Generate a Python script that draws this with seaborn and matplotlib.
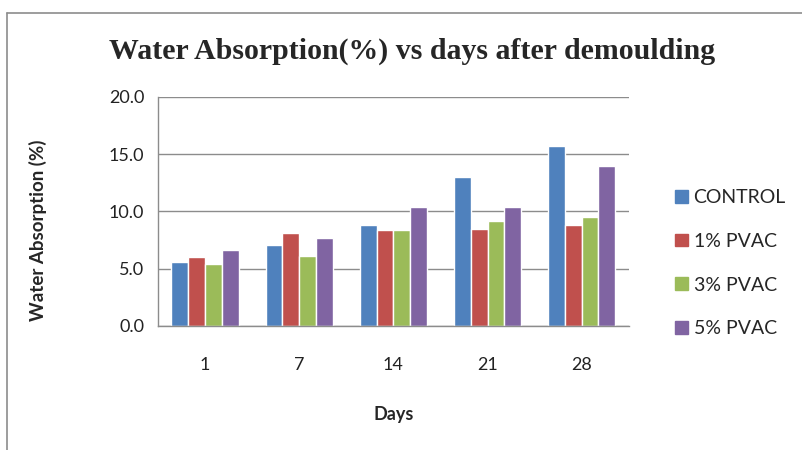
import numpy as np
import pandas as pd
import matplotlib.pyplot as plt
import seaborn as sns
from matplotlib.lines import Line2D

# Data
days = ['1', '7', '14', '21', '28']
groups = ['CONTROL', '1% PVAC', '3% PVAC', '5% PVAC']
control = [5.6, 7.1, 8.8, 13.0, 15.7]
pvac1 = [6.0, 8.1, 8.4, 8.5, 8.8]
pvac3 = [5.4, 6.1, 8.4, 9.2, 9.5]
pvac5 = [6.6, 7.7, 10.4, 10.4, 14.0]
colors = ['#4F81BD', '#C0504D', '#9BBB59', '#8064A2']

# Long form table for seaborn
df = pd.DataFrame({
    'Days': days * 4,
    'Group': np.repeat(groups, len(days)),
    'Value': control + pvac1 + pvac3 + pvac5,
})

sns.set_style('white')
plt.rcParams['font.family'] = ['Lato', 'DejaVu Sans']

fig = plt.figure(figsize=(8.02, 4.5), dpi=100)
ax = fig.add_axes([0.197, 0.2756, 0.587, 0.509])

sns.barplot(data=df, x='Days', y='Value', hue='Group', order=days,
            hue_order=groups, palette=colors, width=0.714, saturation=1,
            ax=ax, legend=False)

ax.set_ylim(0, 20)
ax.set_xlim(-0.5, 4.5)
ax.set_yticks([0, 5, 10, 15, 20])
ax.set_yticklabels(['%.1f' % v for v in [0, 5, 10, 15, 20]])
ax.yaxis.grid(True, color='#8c8c8c', linewidth=1)
ax.set_axisbelow(True)
for s in ['top', 'right']:
    ax.spines[s].set_visible(False)
for s in ['left', 'bottom']:
    ax.spines[s].set_color('#8c8c8c')
    ax.spines[s].set_linewidth(1)
ax.tick_params(axis='both', labelsize=13, colors='#222222', length=0, pad=10)
ax.tick_params(axis='x', pad=22)

ax.set_xlabel('Days', fontsize=13, fontweight='bold', labelpad=24)
ax.set_ylabel('Water Absorption (%)', fontsize=13.5, fontweight='bold')
ax.yaxis.set_label_coords(-0.235, 0.42)

fig.text(0.514, 0.885, 'Water Absorption(%) vs days after demoulding',
         ha='center', va='center', fontsize=21.5, fontweight='bold',
         family='Liberation Serif')

# Legend on the right
handles = [plt.Rectangle((0, 0), 1, 1, color=c) for c in colors]
fig.legend(handles, groups, loc='center left', bbox_to_anchor=(0.82, 0.415),
           frameon=False, fontsize=14, handlelength=0.65, handleheight=0.65,
           handletextpad=0.3, labelspacing=1.38)

# Outer border
fig.add_artist(Line2D([0.009, 0.009], [0, 0.971], color='#8c8c8c', lw=1.2))
fig.add_artist(Line2D([0.009, 1.0], [0.971, 0.971], color='#8c8c8c', lw=1.2))

fig.savefig('out.png', dpi=100)
